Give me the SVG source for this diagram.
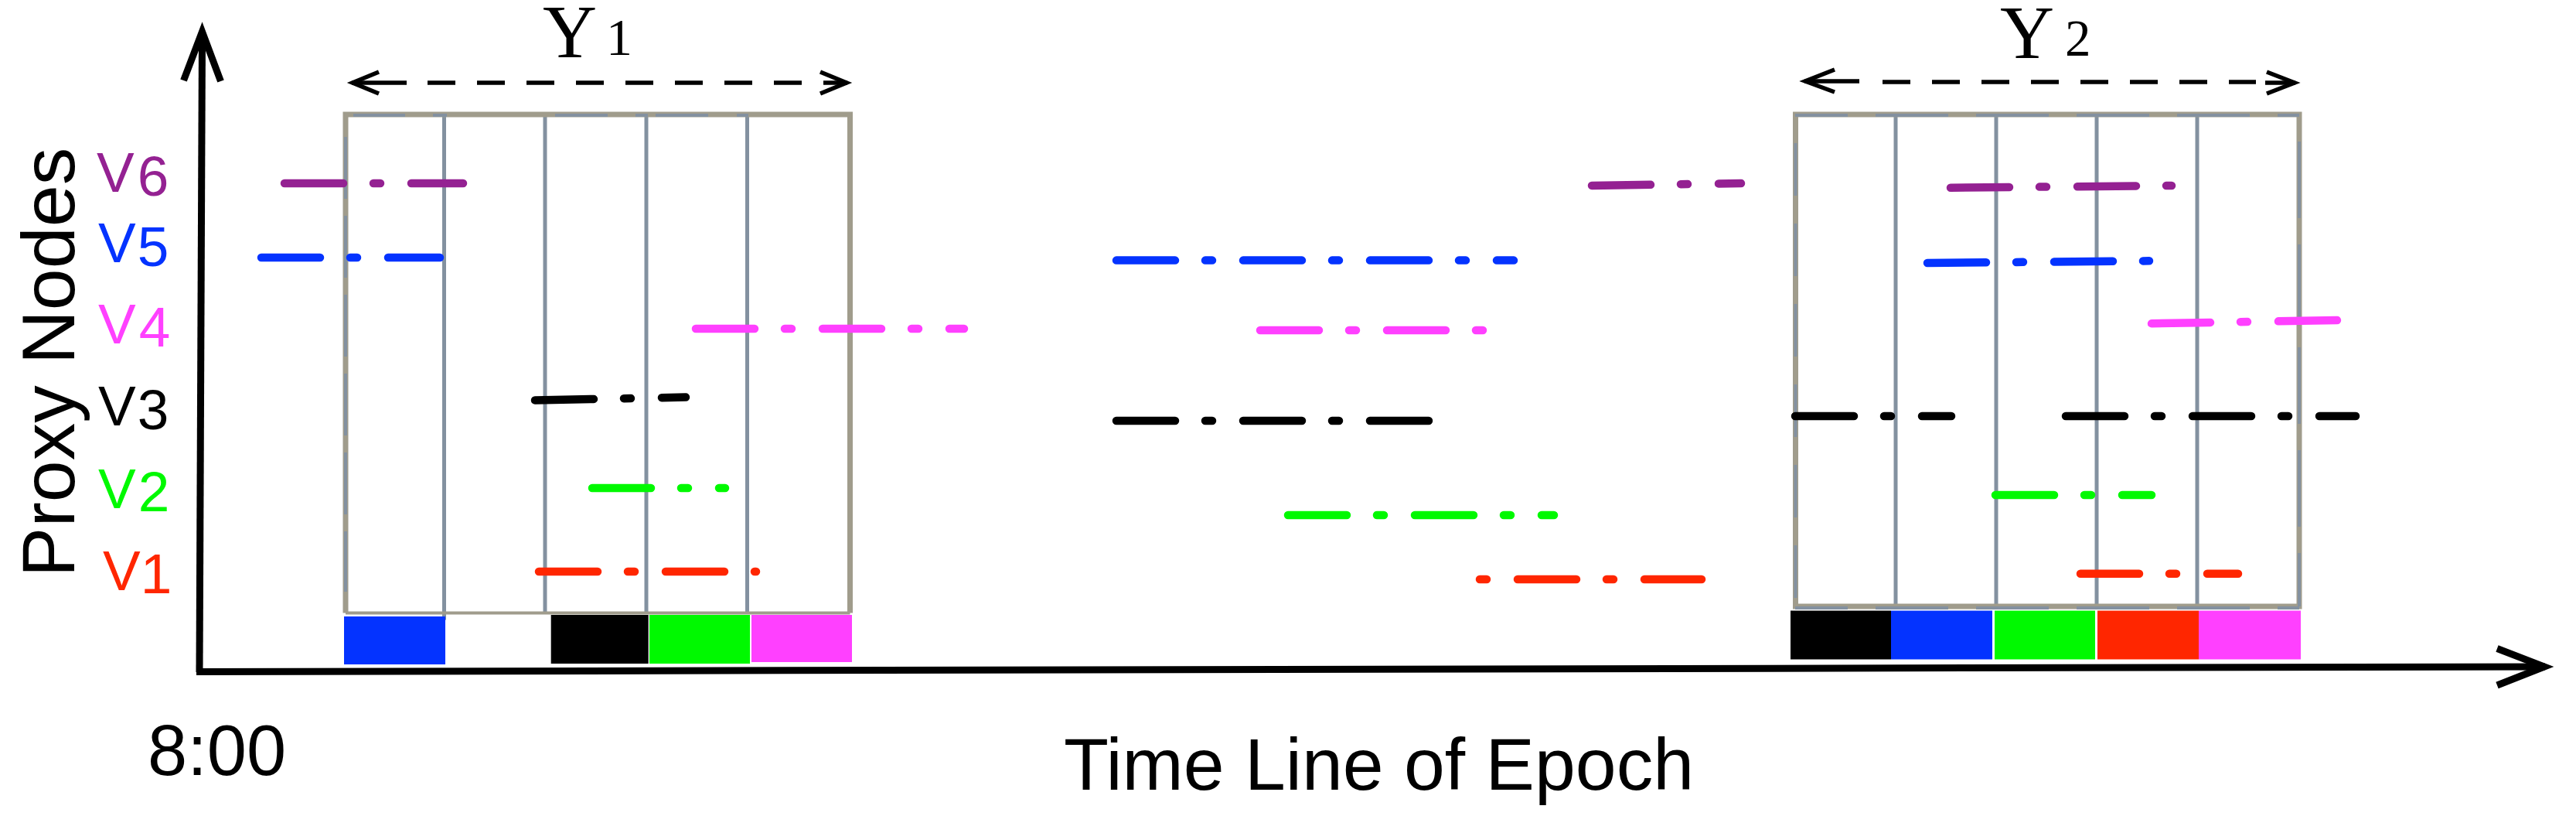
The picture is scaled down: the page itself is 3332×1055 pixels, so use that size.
<svg xmlns="http://www.w3.org/2000/svg" width="3332" height="1055" viewBox="0 0 3332 1055">
<style>
.dd{fill:none;stroke-width:10.5;stroke-linecap:round;stroke-dasharray:76 39 9 40}
.frame{fill:none;stroke:#a09c8c;stroke-width:7}
.ov{fill:none;stroke:#8391a0;stroke-width:4}
.grid{stroke:#8391a0;stroke-width:5}
.ax{stroke:#000;stroke-width:9;fill:none}
.arr{stroke:#000;stroke-width:5.5;fill:none}
.dash{stroke:#000;stroke-width:5.5;stroke-dasharray:36 28}
.lbl{font-family:"Liberation Sans",Arial,sans-serif;font-size:73px}
.big{font-family:"Liberation Sans",Arial,sans-serif;fill:#000}
.ups{font-family:"Liberation Serif","DejaVu Serif",serif;fill:#000}
.pu{stroke:#942192;fill:#942192}
.bl{stroke:#0433ff;fill:#0433ff}
.mg{stroke:#ff40ff;fill:#ff40ff}
.bk{stroke:#000;fill:#000}
.gr{stroke:#00f900;fill:#00f900}
.rd{stroke:#ff2600;fill:#ff2600}
</style>
<rect width="3332" height="1055" fill="#fff"/>

<g id="window-1">
  <line class="grid" x1="574.5" y1="148" x2="574.5" y2="800"/>
  <line class="grid" x1="705" y1="148" x2="705" y2="792"/>
  <line class="grid" x1="836" y1="148" x2="836" y2="792"/>
  <line class="grid" x1="966.5" y1="148" x2="966.5" y2="792"/>
  <path class="frame" d="M447,792.5 L447,148 L1099.5,148 L1099.5,792.5"/>
  <line x1="447" y1="792.5" x2="1099.5" y2="792.5" stroke="#a09c8c" stroke-width="4"/>
  <path class="ov" d="M457,149H524M560,149H578M718,149H786M822,149H838M848,149H916M953,149H968"/>
  <line class="ov" x1="447" y1="177" x2="447" y2="765" stroke-dasharray="80 22"/>
  <path class="ov" d="M445,799.5H513M549,799.5H577"/>
  <rect x="445" y="797" width="131" height="62" fill="#0433ff"/>
  <rect x="712.7" y="795" width="126" height="63" fill="#000"/>
  <rect x="840" y="795" width="130" height="63" fill="#00f900"/>
  <rect x="972" y="795" width="130" height="61" fill="#ff40ff"/>
</g>

<g id="window-2">
  <line class="grid" x1="2452" y1="148" x2="2452" y2="784"/>
  <line class="grid" x1="2582" y1="148" x2="2582" y2="784"/>
  <line class="grid" x1="2712" y1="148" x2="2712" y2="784"/>
  <line class="grid" x1="2842" y1="148" x2="2842" y2="784"/>
  <rect class="frame" x="2322.5" y="148" width="651.5" height="636"/>
  <line class="ov" x1="2322" y1="149" x2="2974" y2="149" stroke-dasharray="94 36" stroke-dashoffset="26"/>
  <line class="ov" x1="2322" y1="786" x2="2974" y2="786" stroke-dasharray="94 36" stroke-dashoffset="26"/>
  <line class="ov" x1="2322.5" y1="185" x2="2322.5" y2="784" stroke-dasharray="68 36"/>
  <line class="ov" x1="2974" y1="183" x2="2974" y2="784" stroke-dasharray="99 34"/>
  <rect x="2316" y="789.5" width="130" height="63" fill="#000"/>
  <rect x="2446" y="789.5" width="131" height="63" fill="#0433ff"/>
  <rect x="2580" y="789.5" width="130" height="63" fill="#00f900"/>
  <rect x="2713" y="789.5" width="131" height="63" fill="#ff2600"/>
  <rect x="2844" y="789.5" width="132" height="63" fill="#ff40ff"/>
</g>

<g id="activity-lines">
  <path class="dd pu" d="M368,237H599"/>
  <path class="dd bl" d="M338,333H569"/>
  <path class="dd mg" d="M900,425H1247"/>
  <path class="dd bk" d="M692,517.5L887,513.6"/>
  <path class="dd gr" d="M766,631H938"/>
  <path class="dd rd" d="M697,739H978"/>

  <path class="dd pu" d="M2059,240L2252,237"/>
  <path class="dd bl" d="M1444,336.6H1958"/>
  <path class="dd mg" d="M1630,427H1919"/>
  <path class="dd bk" d="M1444,544H1848"/>
  <path class="dd gr" d="M1666,666H2010"/>
  <path class="dd rd" d="M1914,749H2201" stroke-dashoffset="115"/>

  <path class="dd pu" d="M2523,242.7L2809,240"/>
  <path class="dd bl" d="M2493,340L2780,337.3"/>
  <path class="dd mg" d="M2783,418.3L3023,414"/>
  <path class="dd bk" d="M2322,538H2524"/>
  <path class="dd bk" d="M2672,538H3047"/>
  <path class="dd gr" d="M2581,640H2783"/>
  <path class="dd rd" d="M2691,741.7H2895"/>
</g>

<g id="span-arrows">
  <line class="arr" x1="455" y1="107" x2="526" y2="107"/>
  <line class="dash" x1="553" y1="107" x2="1037" y2="107"/>
  <line class="arr" x1="1065" y1="107" x2="1096" y2="107"/>
  <path class="arr" d="M490,93L456,107L490,121"/>
  <path class="arr" d="M1061,93L1095,107L1061,121"/>

  <line class="arr" x1="2334" y1="105" x2="2405" y2="105"/>
  <line class="dash" x1="2435" y1="106" x2="2918" y2="106" stroke-dasharray="35.5 28"/>
  <line class="arr" x1="2930" y1="107" x2="2969" y2="107"/>
  <path class="arr" d="M2373,90L2335,105L2373,119"/>
  <path class="arr" d="M2932,93L2968,107L2932,121"/>
</g>

<g id="axes">
  <line class="ax" x1="261.5" y1="50" x2="258" y2="869"/>
  <path class="ax" d="M237.5,104L261.5,41L285.5,105"/>
  <line class="ax" x1="254" y1="868.5" x2="3292" y2="862"/>
  <path class="ax" d="M3230,838.5L3291,862L3230,886"/>
</g>

<g id="labels">
  <text class="ups" x="702" y="74" font-size="97">Υ</text>
  <text class="ups" x="784" y="71" font-size="68">1</text>
  <text class="ups" x="2587" y="75" font-size="97">Υ</text>
  <text class="ups" x="2671" y="72" font-size="67">2</text>

  <text class="lbl" x="125" y="248" fill="#942192">V<tspan dx="4" dy="5">6</tspan></text>
  <text class="lbl" x="127" y="339" fill="#0433ff">V<tspan dx="2" dy="5">5</tspan></text>
  <text class="lbl" x="127" y="444" fill="#ff40ff">V<tspan dx="4" dy="4">4</tspan></text>
  <text class="lbl" x="127" y="550" fill="#000">V<tspan dx="2" dy="5">3</tspan></text>
  <text class="lbl" x="127" y="657" fill="#00f900">V<tspan dx="3" dy="4">2</tspan></text>
  <text class="lbl" x="133" y="763" fill="#ff2600">V<tspan dy="4">1</tspan></text>

  <text class="big" font-size="97" text-anchor="middle" transform="translate(96,468.5) rotate(-90)">Proxy Nodes</text>
  <text class="big" x="191" y="1002" font-size="92">8:00</text>
  <text class="big" x="1376" y="1021" font-size="95">Time Line of Epoch</text>
</g>
</svg>
